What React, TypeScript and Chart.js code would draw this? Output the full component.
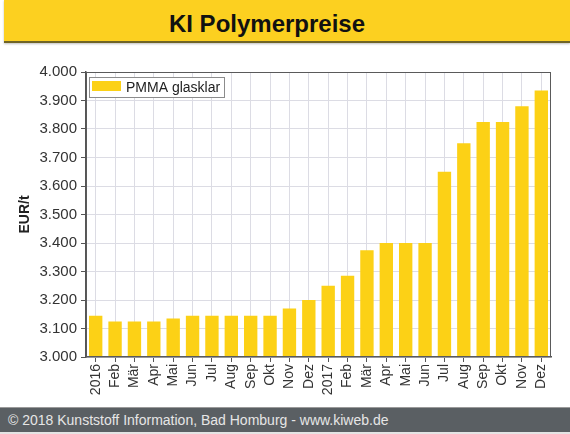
import React, { useEffect, useRef } from 'react';
import { Chart, registerables } from 'chart.js';

Chart.register(...registerables);

const categories = ['2016', 'Feb', 'Mär', 'Apr', 'Mai', 'Jun', 'Jul', 'Aug', 'Sep', 'Okt', 'Nov', 'Dez',
  '2017', 'Feb', 'Mär', 'Apr', 'Mai', 'Jun', 'Jul', 'Aug', 'Sep', 'Okt', 'Nov', 'Dez'];
const pmmaPrices = [3145, 3125, 3125, 3125, 3135, 3145, 3145, 3145, 3145, 3145, 3170, 3200,
  3250, 3285, 3375, 3400, 3400, 3400, 3650, 3750, 3825, 3825, 3880, 3935];
const seriesLabel = 'PMMA glasklar';
const yMin = 3000;
const yMax = 4000;
const yStep = 100;
const titleText = 'KI Polymerpreise';
const yAxisTitle = 'EUR/t';
const footerText = '© 2018 Kunststoff Information, Bad Homburg - www.kiweb.de';

const FONT = '"Liberation Sans", Arial, Helvetica, sans-serif';
const BAR_COLOR = '#FCD116';

const fmt = (v: number) => {
  const n = Math.round(v);
  const th = Math.floor(n / 1000);
  const rest = String(n % 1000).padStart(3, '0');
  return th + '.' + rest;
};

const framePlugin = {
  id: 'frameLegend',
  afterDraw(chart: any) {
    const { ctx, chartArea: a } = chart;
    ctx.save();
    ctx.strokeStyle = '#5a5a5a';
    ctx.lineWidth = 1;
    ctx.strokeRect(a.left + 0.5, a.top + 0.5, a.right - a.left - 1, a.bottom - a.top - 1);
    const ds = chart.data.datasets[0];
    ctx.font = `14px ${FONT}`;
    const tw = ctx.measureText(ds.label).width;
    const x = Math.round(a.left + 3);
    const y = Math.round(a.top + 5);
    const w = Math.round(3 + 29 + 5 + tw + 4);
    const h = 20;
    ctx.fillStyle = '#ffffff';
    ctx.fillRect(x, y, w, h);
    ctx.strokeStyle = '#8c8c8c';
    ctx.strokeRect(x + 0.5, y + 0.5, w, h);
    ctx.fillStyle = ds.backgroundColor;
    ctx.fillRect(x + 3, y + 4, 29, 10);
    ctx.fillStyle = '#222';
    ctx.textBaseline = 'middle';
    ctx.textAlign = 'left';
    ctx.fillText(ds.label, x + 3 + 29 + 5, y + h / 2 + 1);
    ctx.restore();
  },
};

export default function App() {
  const ref = useRef<HTMLCanvasElement | null>(null);

  useEffect(() => {
    if (!ref.current) return;
    const chart = new Chart(ref.current, {
      type: 'bar',
      data: {
        labels: categories,
        datasets: [
          {
            label: seriesLabel,
            data: pmmaPrices,
            backgroundColor: BAR_COLOR,
            borderWidth: 0,
            barPercentage: 0.69,
            categoryPercentage: 1,
          },
        ],
      },
      options: {
        responsive: false,
        animation: false,
        devicePixelRatio: 1,
        layout: { padding: { top: 28, right: 19, left: 0, bottom: 0 } },
        plugins: {
          legend: { display: false },
          tooltip: { enabled: false },
          title: { display: false },
        },
        scales: {
          x: {
            type: 'category',
            offset: true,
            grid: {
              offset: false,
              color: '#dcdce4',
              lineWidth: 1,
              drawTicks: true,
              tickLength: 5,
              tickColor: '#555',
            },
            border: { color: '#555', width: 1.5 },
            ticks: {
              autoSkip: false,
              maxRotation: 90,
              minRotation: 90,
              padding: 2,
              color: '#333',
              font: { family: FONT, size: 14 },
            },
            afterFit: (s: any) => {
              s.height = 50;
            },
          },
          y: {
            min: yMin,
            max: yMax,
            ticks: {
              stepSize: yStep,
              padding: 4,
              color: '#333',
              font: { family: FONT, size: 15 },
              callback: (v: any) => fmt(Number(v)),
            },
            grid: {
              color: '#dcdce4',
              lineWidth: 1,
              tickLength: 5,
              tickColor: '#555',
            },
            border: { color: '#555', width: 1.5 },
            title: {
              display: true,
              text: yAxisTitle,
              color: '#222',
              font: { family: FONT, size: 14, weight: 'bold' },
              padding: { top: 17, bottom: 0 },
            },
            afterFit: (s: any) => {
              s.width = 86;
            },
          },
        },
      },
      plugins: [framePlugin],
    } as any);
    return () => chart.destroy();
  }, []);

  return (
    <div style={{ position: 'absolute', left: 0, top: 0, width: 570, height: 434, background: '#fff', overflow: 'hidden', fontFamily: FONT }}>
      <div
        style={{
          position: 'absolute',
          left: 4,
          top: 0,
          width: 566,
          height: 41,
          background: '#FCD020',
          borderBottom: '2px solid #6f6426',
          boxShadow: '0 1px 2px rgba(0,0,0,0.25)',
        }}
      />
      <div
        style={{
          position: 'absolute',
          left: 0,
          top: 3,
          width: 534,
          height: 41,
          lineHeight: '41px',
          textAlign: 'center',
          fontSize: 24,
          fontWeight: 'bold',
          color: '#111',
        }}
      >
        {titleText}
      </div>
      <canvas
        ref={ref}
        width={570}
        height={363}
        style={{ position: 'absolute', left: 0, top: 44, width: 570, height: 363, display: 'block' }}
      />
      <div
        style={{
          position: 'absolute',
          left: 0,
          top: 407,
          width: 570,
          height: 25,
          background: '#5a5f63',
          borderTop: '1px solid #9a9a9a',
          boxSizing: 'border-box',
          color: '#e6e6e6',
          fontSize: 14,
          lineHeight: '24px',
          paddingLeft: 8,
          whiteSpace: 'nowrap',
        }}
      >
        {footerText}
      </div>
      <div style={{ position: 'absolute', left: 0, top: 432, width: 570, height: 2, background: '#e4e4e4' }} />
    </div>
  );
}
